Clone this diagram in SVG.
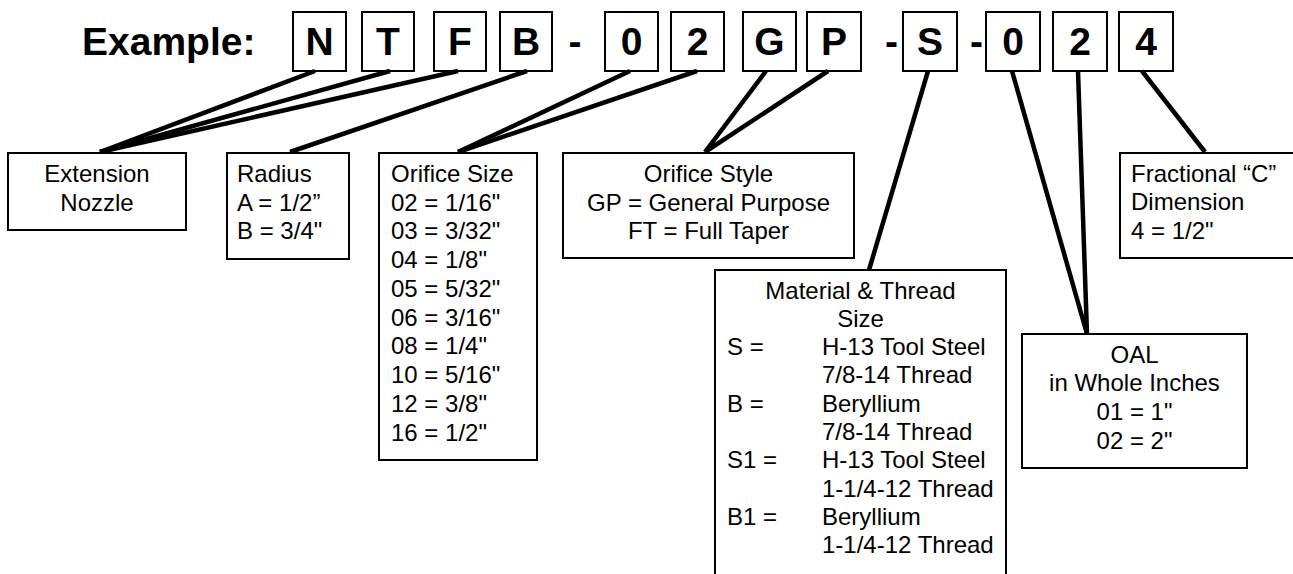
<svg xmlns="http://www.w3.org/2000/svg" width="1293" height="574" viewBox="0 0 1293 574">
  <style>
    .bg { fill: #ffffff; }
    .lb { fill: #ffffff; stroke: #000; stroke-width: 2; }
    .big { font-family: "Liberation Sans", Arial, sans-serif; font-weight: bold; font-size: 39px; fill: #000; }
    .bc { text-anchor: middle; }
    .box { fill: #ffffff; stroke: #000; stroke-width: 2; }
    .t { font-family: "Liberation Sans", Arial, sans-serif; font-size: 24px; fill: #000; }
    .c { text-anchor: middle; }
    .conn line { stroke: #000; stroke-width: 4.5; stroke-linecap: butt; }
  </style>
  <rect class="bg" x="0" y="0" width="1293" height="574"/>

  <g id="code">
    <text class="big" x="82" y="55">Example:</text>
    <g id="letter-N"><rect class="lb" x="293" y="12" width="53" height="59"/><text class="big bc" x="319.5" y="55">N</text></g>
    <g id="letter-T"><rect class="lb" x="362" y="12" width="52" height="59"/><text class="big bc" x="388" y="55">T</text></g>
    <g id="letter-F"><rect class="lb" x="434" y="12" width="52" height="59"/><text class="big bc" x="460" y="55">F</text></g>
    <g id="letter-B"><rect class="lb" x="500" y="12" width="52" height="59"/><text class="big bc" x="526" y="55">B</text></g>
    <text class="big bc" x="575" y="55">-</text>
    <g id="digit-0a"><rect class="lb" x="605" y="12" width="53" height="59"/><text class="big bc" x="631.5" y="55">0</text></g>
    <g id="digit-2a"><rect class="lb" x="671" y="12" width="53" height="59"/><text class="big bc" x="697.5" y="55">2</text></g>
    <g id="letter-G"><rect class="lb" x="743" y="12" width="53" height="59"/><text class="big bc" x="769.5" y="55">G</text></g>
    <g id="letter-P"><rect class="lb" x="807" y="12" width="54" height="59"/><text class="big bc" x="834" y="55">P</text></g>
    <text class="big bc" x="891.5" y="55">-</text>
    <g id="letter-S"><rect class="lb" x="903" y="12" width="54" height="59"/><text class="big bc" x="930" y="55">S</text></g>
    <text class="big bc" x="976.5" y="55">-</text>
    <g id="digit-0b"><rect class="lb" x="986" y="12" width="54" height="59"/><text class="big bc" x="1013" y="55">0</text></g>
    <g id="digit-2b"><rect class="lb" x="1053" y="12" width="54" height="59"/><text class="big bc" x="1080" y="55">2</text></g>
    <g id="digit-4"><rect class="lb" x="1119" y="12" width="54" height="59"/><text class="big bc" x="1146" y="55">4</text></g>
  </g>

  <g id="connectors" class="conn">
    <line x1="315" y1="71" x2="100" y2="152"/>
    <line x1="390" y1="71" x2="100" y2="152"/>
    <line x1="458" y1="71" x2="100" y2="152"/>
    <line x1="527" y1="71" x2="290" y2="152"/>
    <line x1="630" y1="71" x2="458" y2="152"/>
    <line x1="697" y1="71" x2="458" y2="152"/>
    <line x1="766" y1="71" x2="705" y2="152"/>
    <line x1="828" y1="71" x2="705" y2="152"/>
    <line x1="928" y1="71" x2="869" y2="270"/>
    <line x1="1012" y1="71" x2="1087" y2="334"/>
    <line x1="1078" y1="71" x2="1087" y2="334"/>
    <line x1="1142" y1="71" x2="1205" y2="152"/>
  </g>

  <g id="extension">
    <rect class="box" x="8" y="153" width="178" height="77"/>
    <text class="t c" x="97" y="182">Extension</text>
    <text class="t c" x="97" y="211">Nozzle</text>
  </g>

  <g id="radius">
    <rect class="box" x="227" y="153" width="122" height="106"/>
    <text class="t" x="237" y="182">Radius</text>
    <text class="t" x="237" y="210.5">A = 1/2”</text>
    <text class="t" x="237" y="239">B = 3/4"</text>
  </g>

  <g id="orifice-size">
    <rect class="box" x="379" y="153" width="158" height="307"/>
    <text class="t" x="391" y="181.7">Orifice Size</text>
    <text class="t" x="391" y="210.5">02 = 1/16"</text>
    <text class="t" x="391" y="239.3">03 = 3/32"</text>
    <text class="t" x="391" y="268">04 = 1/8"</text>
    <text class="t" x="391" y="296.8">05 = 5/32"</text>
    <text class="t" x="391" y="325.5">06 = 3/16"</text>
    <text class="t" x="391" y="354.3">08 = 1/4"</text>
    <text class="t" x="391" y="383">10 = 5/16"</text>
    <text class="t" x="391" y="411.8">12 = 3/8"</text>
    <text class="t" x="391" y="440.6">16 = 1/2"</text>
  </g>

  <g id="orifice-style">
    <rect class="box" x="563" y="153" width="291" height="105"/>
    <text class="t c" x="708.5" y="181.7">Orifice Style</text>
    <text class="t c" x="708.5" y="210.5">GP = General Purpose</text>
    <text class="t c" x="708.5" y="239.3">FT = Full Taper</text>
  </g>

  <g id="material">
    <rect class="box" x="715" y="270" width="291" height="330"/>
    <text class="t c" x="860.5" y="299.3">Material &amp; Thread</text>
    <text class="t c" x="860.5" y="327">Size</text>
    <text class="t" x="727" y="355">S =</text>
    <text class="t" x="822" y="355">H-13 Tool Steel</text>
    <text class="t" x="822" y="383.4">7/8-14 Thread</text>
    <text class="t" x="727" y="411.7">B =</text>
    <text class="t" x="822" y="411.7">Beryllium</text>
    <text class="t" x="822" y="440">7/8-14 Thread</text>
    <text class="t" x="727" y="468.4">S1 =</text>
    <text class="t" x="822" y="468.4">H-13 Tool Steel</text>
    <text class="t" x="822" y="496.7">1-1/4-12 Thread</text>
    <text class="t" x="727" y="525">B1 =</text>
    <text class="t" x="822" y="525">Beryllium</text>
    <text class="t" x="822" y="553.4">1-1/4-12 Thread</text>
  </g>

  <g id="oal">
    <rect class="box" x="1022" y="334" width="225" height="134"/>
    <text class="t c" x="1134.5" y="362.7">OAL</text>
    <text class="t c" x="1134.5" y="391.3">in Whole Inches</text>
    <text class="t c" x="1134.5" y="420">01 = 1"</text>
    <text class="t c" x="1134.5" y="448.8">02 = 2"</text>
  </g>

  <g id="fractional">
    <rect class="box" x="1120" y="153" width="190" height="105"/>
    <text class="t" x="1131" y="181.7">Fractional “C”</text>
    <text class="t" x="1131" y="210.3">Dimension</text>
    <text class="t" x="1131" y="239.3">4 = 1/2"</text>
  </g>
</svg>
